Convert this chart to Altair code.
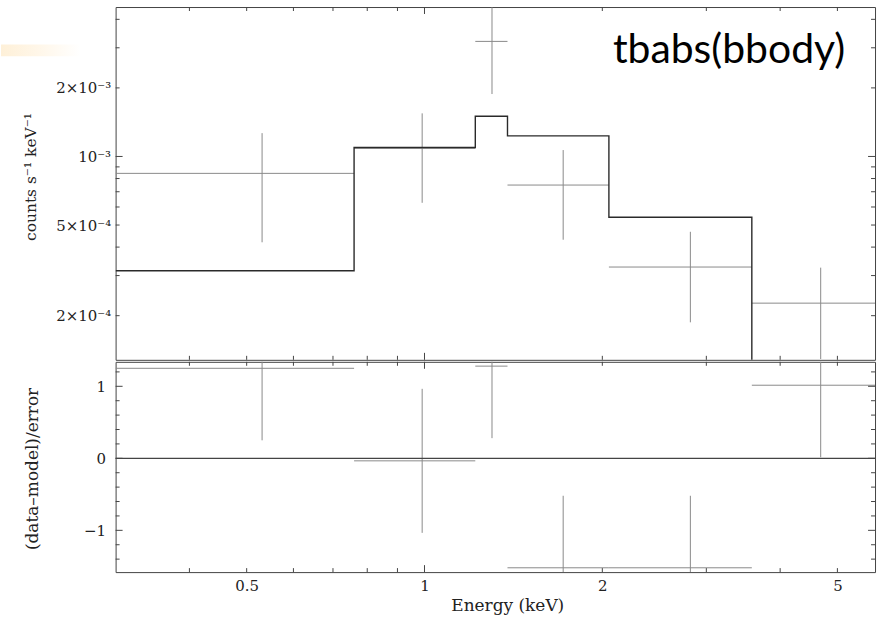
import altair as alt
import pandas as pd

# ---- data ----
e_lo = [0.30, 0.76, 1.219, 1.382, 2.052, 3.582]
e_hi = [0.76, 1.219, 1.382, 2.052, 3.582, 5.79]
e_mid = [0.531, 0.991, 1.301, 1.717, 2.819, 4.685]
rate = [8.43e-4, 1.086e-3, 3.20e-3, 7.49e-4, 3.27e-4, 2.27e-4]
rate_err = [4.23e-4, 4.6e-4, 1.32e-3, 3.18e-4, 1.40e-4, 0.98e-4]
model = [3.15e-4, 1.095e-3, 1.502e-3, 1.232e-3, 5.41e-4, 1.2e-4]
resid = [1.25, -0.035, 1.28, -1.52, -1.52, 1.015]
resid_err = [1, 1, 1, 1, 1, 1]

x_major = [1]
x_minor = [0.4, 0.5, 0.6, 0.7, 0.8, 0.9, 2, 3, 4, 5]
x_labels = [0.5, 1, 2, 5]
top_major = [1e-3]
top_minor = [2e-4, 3e-4, 4e-4, 5e-4, 6e-4, 7e-4, 8e-4, 9e-4, 2e-3, 3e-3, 4e-3]
top_labels = [2e-4, 5e-4, 1e-3, 2e-3]
bot_major = [-1, 0, 1]
bot_minor = [-1.4, -1.2, -0.8, -0.6, -0.4, -0.2, 0.2, 0.4, 0.6, 0.8, 1.2]
bot_labels = [-1, 0, 1]
model_name = ["tbabs(bbody)"]

# ---- layout / style ----
W, H1, H2 = 762, 354, 211
FRAME = "#444444"
DATA_C = "#8a8a8a"
MODEL_C = "#2a2a2a"
LONG, SHORT = 7, 4

xs = alt.Scale(type="log", domain=[0.3, 5.79], nice=False)
ys1 = alt.Scale(type="log", domain=[1.28e-4, 4.53e-3], nice=False)
ys2 = alt.Scale(domain=[-1.58, 1.34], nice=False, zero=False)

AX_TOP_Y = alt.Axis(
    values=top_labels, ticks=False, tickSize=0, domain=False, grid=False,
    labelPadding=5,
    labelExpr="datum.value < 0.00025 ? '2×10⁻⁴' : datum.value < 0.0006 ? '5×10⁻⁴' : datum.value < 0.0015 ? '10⁻³' : '2×10⁻³'",
    title="counts s⁻¹ keV⁻¹", titleFontSize=15.5, titleX=-85, titleY=170,
    titleBaseline="middle")
AX_BOT_X = alt.Axis(
    values=x_labels, format="~g", ticks=False, tickSize=0, domain=False, grid=False,
    labelPadding=6, title="Energy (keV)", titleFontSize=17, titleX=393, titleY=39,
    titleBaseline="alphabetic")
AX_BOT_Y = alt.Axis(
    values=bot_labels, format="d", ticks=False, tickSize=0, domain=False, grid=False,
    labelPadding=10, title="(data–model)/error", titleFontSize=17, titleX=-83, titleY=107,
    titleBaseline="middle")

df = pd.DataFrame({
    "e_lo": e_lo, "e_hi": e_hi, "e_mid": e_mid,
    "rate": rate,
    "rate_lo": [r - e for r, e in zip(rate, rate_err)],
    "rate_hi": [r + e for r, e in zip(rate, rate_err)],
    "resid": resid,
    "r_lo": [r - e for r, e in zip(resid, resid_err)],
    "r_hi": [r + e for r, e in zip(resid, resid_err)],
})
df_model = pd.DataFrame({"e": e_lo + [e_hi[-1]], "m": model + [model[-1]]})


def xticks(vals, y0, y1, axis):
    return alt.Chart(pd.DataFrame({"v": vals})).mark_rule(color=FRAME, strokeWidth=1).encode(
        x=alt.X("v:Q", scale=xs, axis=axis), y=alt.value(y0), y2=alt.value(y1))


def yticks(vals, scale, x0, x1, axis):
    return alt.Chart(pd.DataFrame({"v": vals})).mark_rule(color=FRAME, strokeWidth=1).encode(
        y=alt.Y("v:Q", scale=scale, axis=axis), x=alt.value(x0), x2=alt.value(x1))


base = alt.Chart(df)

# ---------------- top panel ----------------
top_hbar = base.mark_rule(color=DATA_C, strokeWidth=1, clip=True).encode(
    x=alt.X("e_lo:Q", scale=xs, axis=None),
    x2="e_hi:Q",
    y=alt.Y("rate:Q", scale=ys1, axis=AX_TOP_Y),
)
top_vbar = base.mark_rule(color=DATA_C, strokeWidth=1, clip=True).encode(
    x=alt.X("e_mid:Q", scale=xs, axis=None),
    y=alt.Y("rate_lo:Q", scale=ys1, axis=AX_TOP_Y),
    y2="rate_hi:Q",
)
top_model = alt.Chart(df_model).mark_line(
    color=MODEL_C, strokeWidth=1.4, interpolate="step-after", clip=True).encode(
    x=alt.X("e:Q", scale=xs, axis=None),
    y=alt.Y("m:Q", scale=ys1, axis=AX_TOP_Y),
)
label_txt = alt.Chart(pd.DataFrame({"t": model_name})).mark_text(
    align="right", baseline="alphabetic", font="Lato", fontSize=41, color="#000000").encode(
    x=alt.value(W - 30), y=alt.value(56), text="t:N")
smear = alt.Chart(pd.DataFrame({"a": [0]})).mark_rect(
    clip=False,
    fill=alt.Gradient(gradient="linear", x1=0, x2=1, y1=0, y2=0, stops=[
        alt.GradientStop(color="#fef0d8", offset=0),
        alt.GradientStop(color="#fff7ea", offset=0.5),
        alt.GradientStop(color="#ffffff", offset=1)])).encode(
    x=alt.value(-115), x2=alt.value(-35), y=alt.value(37.5), y2=alt.value(49.5))

top = alt.layer(
    smear, top_hbar, top_vbar, top_model, label_txt,
    xticks(x_major, 0, LONG, None), xticks(x_minor, 0, SHORT, None),
    xticks(x_major, H1, H1 - LONG, None), xticks(x_minor, H1, H1 - SHORT, None),
    yticks(top_major, ys1, 0, LONG, AX_TOP_Y), yticks(top_minor, ys1, 0, SHORT, AX_TOP_Y),
    yticks(top_major, ys1, W, W - LONG, AX_TOP_Y), yticks(top_minor, ys1, W, W - SHORT, AX_TOP_Y),
).properties(width=W, height=H1)

# ---------------- bottom panel ----------------
bot_hbar = base.mark_rule(color=DATA_C, strokeWidth=1, clip=True).encode(
    x=alt.X("e_lo:Q", scale=xs, axis=AX_BOT_X),
    x2="e_hi:Q",
    y=alt.Y("resid:Q", scale=ys2, axis=AX_BOT_Y),
)
bot_vbar = base.mark_rule(color=DATA_C, strokeWidth=1, clip=True).encode(
    x=alt.X("e_mid:Q", scale=xs, axis=AX_BOT_X),
    y=alt.Y("r_lo:Q", scale=ys2, axis=AX_BOT_Y),
    y2="r_hi:Q",
)
zero_line = alt.Chart(pd.DataFrame({"z": [0]})).mark_rule(color=FRAME, strokeWidth=1.2).encode(
    y=alt.Y("z:Q", scale=ys2, axis=AX_BOT_Y), x=alt.value(0), x2=alt.value(W))

bottom = alt.layer(
    bot_hbar, bot_vbar, zero_line,
    xticks(x_major, 0, LONG, AX_BOT_X), xticks(x_minor, 0, SHORT, AX_BOT_X),
    xticks(x_major, H2, H2 - LONG, AX_BOT_X), xticks(x_minor, H2, H2 - SHORT, AX_BOT_X),
    yticks(bot_major, ys2, 0, LONG, AX_BOT_Y), yticks(bot_minor, ys2, 0, SHORT, AX_BOT_Y),
    yticks(bot_major, ys2, W, W - LONG, AX_BOT_Y), yticks(bot_minor, ys2, W, W - SHORT, AX_BOT_Y),
).properties(width=W, height=H2)

chart = alt.vconcat(top, bottom, spacing=0).properties(
    padding={"left": 0, "top": 5, "right": 6, "bottom": 0},
    background="white",
).configure_view(
    stroke=FRAME, strokeWidth=1
).configure_axis(
    labelFont="DejaVu Serif", titleFont="DejaVu Serif",
    labelFontSize=15, titleFontSize=15, titleFontWeight="normal",
    labelColor="#222222", titleColor="#222222",
)

chart.save("out.html", embed_options={"renderer": "svg", "actions": False})
